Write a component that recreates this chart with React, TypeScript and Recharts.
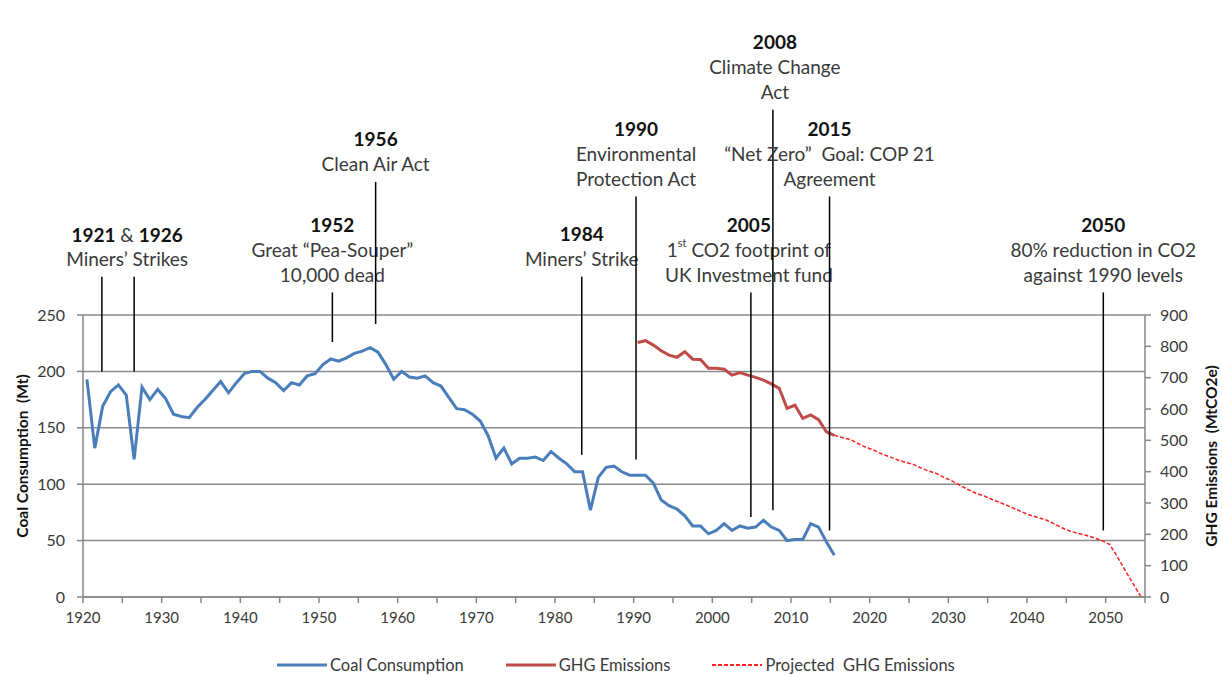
import React from 'react';
import { LineChart, Line, XAxis, YAxis, CartesianGrid, ReferenceLine, Legend } from 'recharts';

// ---------- data ----------
const coalYears: number[] = Array.from({ length: 96 }, (_, i) => 1920 + i);
const coalValues: number[] = [
  193, 132, 169, 182, 188, 179, 122, 186, 175, 184,
  176, 162, 160, 159, 168, 175, 183, 191, 181, 190,
  198, 200, 200, 194, 190, 183, 190, 188, 196, 198,
  206, 211, 209, 212, 216, 218, 221, 217, 206, 193,
  200, 195, 194, 196, 190, 187, 177, 167, 166, 162,
  156, 143, 123, 132, 118, 123, 123, 124, 121, 129,
  123, 118, 111, 111, 77, 106, 115, 116, 111, 108,
  108, 108, 101, 86, 81, 78, 72, 63, 63, 56,
  59, 65, 59, 63, 61, 62, 68, 62, 59, 50,
  51, 51, 65, 62, 49, 37,
];

const ghgYears: number[] = Array.from({ length: 26 }, (_, i) => 1990 + i);
const ghgValues: number[] = [
  812, 818, 804, 786, 772, 765, 783, 759, 758, 730,
  730, 727, 708, 716, 708, 701, 692, 680, 666, 602,
  612, 570, 581, 566, 527, 516,
];

const projYears: number[] = Array.from({ length: 40 }, (_, i) => 2015 + i);
const projValues: number[] = [
  516, 509, 503, 490, 478, 469, 457, 448, 438, 430,
  424, 412, 402, 394, 381, 370, 356, 343, 331, 323,
  312, 302, 292, 281, 270, 260, 253, 245, 233, 220,
  210, 203, 197, 189, 180, 168, 128, 84, 42, 0,
];

const xLabelYears: number[] = [1920, 1930, 1940, 1950, 1960, 1970, 1980, 1990, 2000, 2010, 2020, 2030, 2040, 2050];
const leftTicks: number[] = [0, 50, 100, 150, 200, 250];
const rightTicks: number[] = [0, 100, 200, 300, 400, 500, 600, 700, 800, 900];

const seriesNames = ['Coal Consumption', 'GHG Emissions', 'Projected  GHG Emissions'];

// annotation events: line position (year), line top/bottom (in Mt, left axis), text rows
type Row = { text: string; bold?: boolean; parts?: { t: string; bold?: boolean; sup?: boolean }[] };
type Ev = { x: number; top: number; bottom: number; dx?: number; rows?: Row[] };
const events: Ev[] = [
  { x: 1921.9, top: 284, bottom: 200 },
  {
    x: 1926, top: 284, bottom: 200, dx: -7,
    rows: [
      { text: '', parts: [{ t: '1921', bold: true }, { t: ' & ' }, { t: '1926', bold: true }] },
      { text: 'Miners\u2019 Strikes' },
    ],
  },
  {
    x: 1951.2, top: 270, bottom: 226,
    rows: [
      { text: '1952', bold: true },
      { text: 'Great \u201CPea-Souper\u201D' },
      { text: '10,000 dead' },
    ],
  },
  {
    x: 1956.7, top: 368, bottom: 242,
    rows: [
      { text: '1956', bold: true },
      { text: 'Clean Air Act' },
    ],
  },
  {
    x: 1982.9, top: 284, bottom: 126,
    rows: [
      { text: '1984', bold: true },
      { text: 'Miners\u2019 Strike' },
    ],
  },
  {
    x: 1989.8, top: 355, bottom: 122,
    rows: [
      { text: '1990', bold: true },
      { text: 'Environmental' },
      { text: 'Protection Act' },
    ],
  },
  {
    x: 2004.4, top: 270, bottom: 71, dx: -2,
    rows: [
      { text: '2005', bold: true },
      { text: '', parts: [{ t: '1' }, { t: 'st', sup: true }, { t: ' CO2 footprint of' }] },
      { text: 'UK Investment fund' },
    ],
  },
  {
    x: 2007.2, top: 432, bottom: 77, dx: 2,
    rows: [
      { text: '2008', bold: true },
      { text: 'Climate Change' },
      { text: 'Act' },
    ],
  },
  {
    x: 2014.4, top: 355, bottom: 59,
    rows: [
      { text: '2015', bold: true },
      { text: '\u201CNet Zero\u201D  Goal: COP 21' },
      { text: 'Agreement' },
    ],
  },
  {
    x: 2049.2, top: 270, bottom: 59,
    rows: [
      { text: '2050', bold: true },
      { text: '80% reduction in CO2' },
      { text: 'against 1990 levels' },
    ],
  },
];

// ---------- table ----------
const allYears: number[] = Array.from({ length: 135 }, (_, i) => 1920 + i);
const rows = allYears.map((year) => {
  const ci = coalYears.indexOf(year);
  const gi = ghgYears.indexOf(year);
  const pi = projYears.indexOf(year);
  return {
    year,
    coal: ci >= 0 ? coalValues[ci] : null,
    ghg: gi >= 0 ? ghgValues[gi] : null,
    proj: pi >= 0 ? projValues[pi] : null,
  };
});

const xTicks: number[] = [];
for (let t = 1919.5; t <= 2054.5; t += 5) xTicks.push(t);

const FONT = 'Lato, "Open Sans", sans-serif';
const TEXT = '#3a3a3a';
const AXIS = '#868686';
const FS = 19;

const makeLabel = (ev: Ev) => (props: any) => {
  if (!ev.rows) return null;
  const vb = props.viewBox || {};
  const cx = (vb.x ?? 0) + (ev.dx ?? 0);
  const top = vb.y ?? 0;
  const n = ev.rows.length;
  return (
    <g>
      {ev.rows.map((r, i) => {
        const y = top - 18 - (n - 1 - i) * 25;
        if (r.parts) {
          return (
            <text key={i} x={cx} y={y} textAnchor="middle" dominantBaseline="central"
              fontFamily={FONT} fontSize={FS} fill={TEXT} style={{ whiteSpace: 'pre' }}>
              {r.parts.map((p, j) => (
                <tspan key={j} fontWeight={p.bold ? 700 : 400} fill={p.bold ? '#111' : TEXT}
                  fontSize={p.sup ? 11 : FS} baselineShift={p.sup ? '55%' : undefined}>{p.t}</tspan>
              ))}
            </text>
          );
        }
        return (
          <text key={i} x={cx} y={y} textAnchor="middle" dominantBaseline="central"
            fontFamily={FONT} fontSize={FS} fontWeight={r.bold ? 700 : 400}
            fill={r.bold ? '#111' : TEXT} style={{ whiteSpace: 'pre' }}>
            {r.text}
          </text>
        );
      })}
    </g>
  );
};

const renderLegend = (props: any) => {
  const payload = props.payload || [];
  return (
    <div style={{ display: 'flex', alignItems: 'center', fontFamily: FONT, fontSize: 16.5, color: TEXT, lineHeight: '20px' }}>
      {payload.map((p: any, i: number) => {
        const dashed = p.payload && p.payload.strokeDasharray;
        return (
          <div key={i} style={{ display: 'flex', alignItems: 'center', marginRight: 42 }}>
            <svg width={50} height={10} style={{ marginRight: 3 }}>
              <line x1={0} y1={5} x2={50} y2={5} stroke={p.color}
                strokeWidth={dashed ? 2 : 3}
                strokeDasharray={dashed ? '4 2' : undefined} />
            </svg>
            <span style={{ whiteSpace: 'pre' }}>{p.value}</span>
          </div>
        );
      })}
    </div>
  );
};

export default function App() {
  return (
    <div style={{ position: 'absolute', left: 0, top: 0, width: 1222, height: 675, background: '#fff', fontFamily: FONT }}>
      <LineChart width={1222} height={675} data={rows}
        margin={{ top: 315, right: 17, bottom: 48, left: 23 }}>
        <CartesianGrid yAxisId="left" vertical={false} stroke="#8a8a8a" strokeWidth={1.5} />
        <XAxis dataKey="year" type="number" domain={[1919.5, 2054.5]} ticks={xTicks} interval={0}
          tickFormatter={(v: number) => (xLabelYears.includes(v + 0.5) ? String(v + 0.5) : '')}
          tick={{ fill: TEXT, fontSize: 15, fontFamily: FONT }} tickSize={6} tickMargin={9}
          axisLine={{ stroke: AXIS, strokeWidth: 1.5 }} tickLine={{ stroke: AXIS, strokeWidth: 1.5 }}
          height={30} allowDecimals />
        <YAxis yAxisId="left" domain={[0, 250]} ticks={leftTicks} width={60} interval={0}
          tick={{ fill: TEXT, fontSize: 16, fontFamily: FONT }} tickSize={6} tickMargin={12}
          axisLine={{ stroke: AXIS, strokeWidth: 1.5 }} tickLine={{ stroke: AXIS, strokeWidth: 1.5 }}
          label={(p: any) => {
            const vb = p.viewBox || {};
            const x = (vb.x ?? 23) - 1;
            const y = (vb.y ?? 315) + (vb.height ?? 282) / 2;
            return (
              <text x={x} y={y} transform={`rotate(-90 ${x} ${y})`} textAnchor="middle"
                dominantBaseline="central" fontFamily={FONT} fontSize={15.5} fontWeight={700} fill="#111"
                style={{ whiteSpace: 'pre' }}>Coal Consumption  (Mt)</text>
            );
          }} />
        <YAxis yAxisId="right" orientation="right" domain={[0, 900]} ticks={rightTicks} width={60} interval={0}
          tick={{ fill: TEXT, fontSize: 16, fontFamily: FONT }} tickSize={6} tickMargin={9}
          axisLine={{ stroke: AXIS, strokeWidth: 1.5 }} tickLine={{ stroke: AXIS, strokeWidth: 1.5 }}
          label={(p: any) => {
            const vb = p.viewBox || {};
            const x = (vb.x ?? 1145) + (vb.width ?? 60) + 6;
            const y = (vb.y ?? 315) + (vb.height ?? 282) / 2;
            return (
              <text x={x} y={y} transform={`rotate(-90 ${x} ${y})`} textAnchor="middle"
                dominantBaseline="central" fontFamily={FONT} fontSize={15.5} fontWeight={700} fill="#111"
                style={{ whiteSpace: 'pre' }}>GHG Emissions  (MtCO2e)</text>
            );
          }} />
        <Line yAxisId="left" dataKey="coal" name={seriesNames[0]} stroke="#4a7ebb" strokeWidth={3}
          dot={false} activeDot={false} isAnimationActive={false} legendType="plainline" />
        <Line yAxisId="right" dataKey="ghg" name={seriesNames[1]} stroke="#be4b48" strokeWidth={3}
          dot={false} activeDot={false} isAnimationActive={false} legendType="plainline" />
        <Line yAxisId="right" dataKey="proj" name={seriesNames[2]} stroke="#ff2020" strokeWidth={1.5}
          strokeDasharray="4 2" dot={false} activeDot={false} isAnimationActive={false} legendType="plainline" />
        {events.map((ev, i) => (
          <ReferenceLine key={i} yAxisId="left" ifOverflow="visible"
            segment={[{ x: ev.x, y: ev.top }, { x: ev.x, y: ev.bottom }]}
            stroke="#000" strokeWidth={1.5} label={makeLabel(ev)} />
        ))}
        <Legend layout="horizontal" verticalAlign="middle" align="center"
          wrapperStyle={{ top: 655, left: 277 }} content={renderLegend} />
      </LineChart>
    </div>
  );
}
